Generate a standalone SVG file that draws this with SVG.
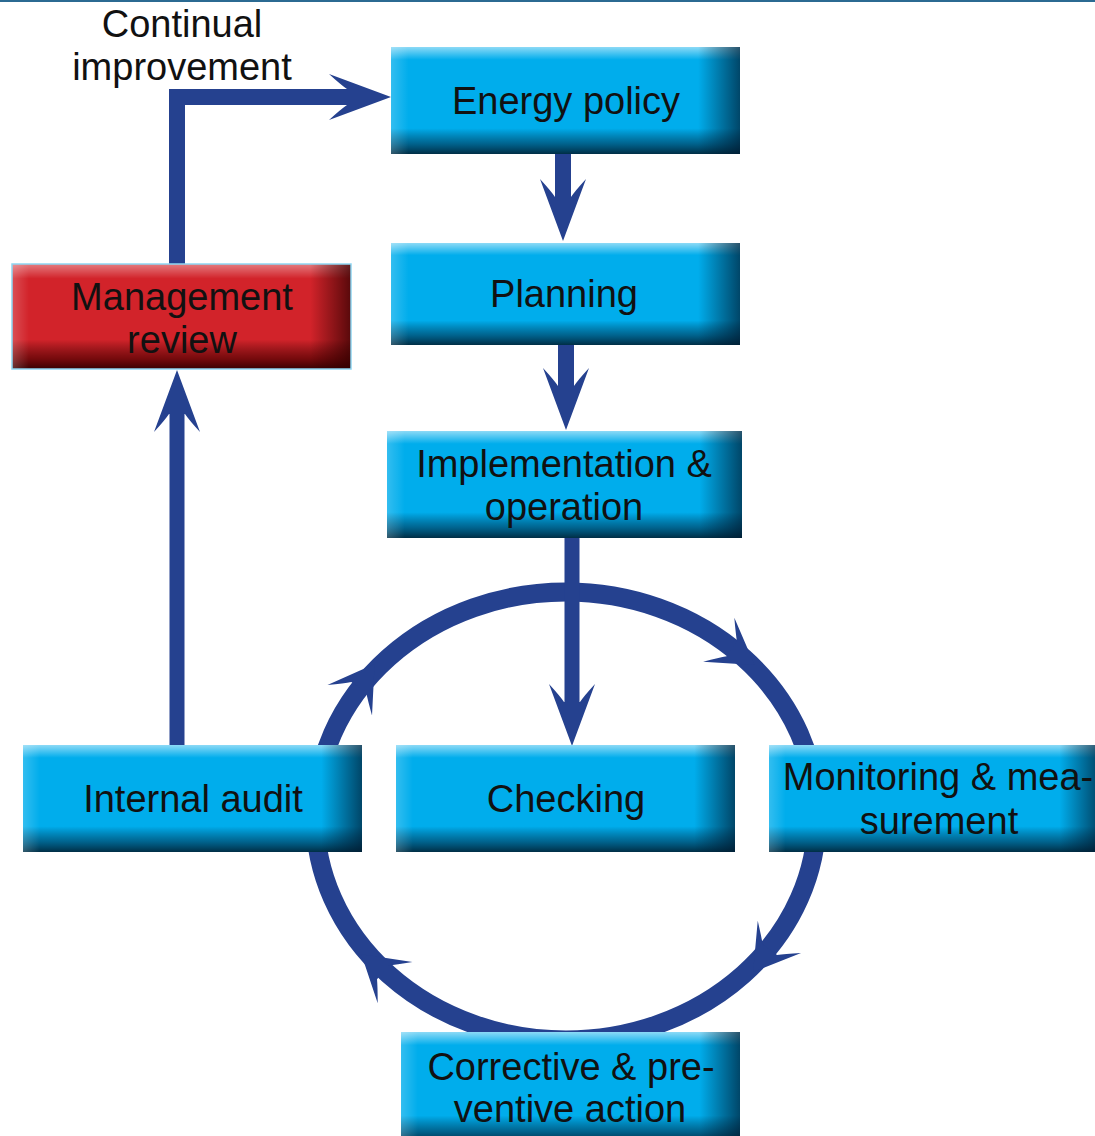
<svg xmlns="http://www.w3.org/2000/svg" width="1095" height="1136" viewBox="0 0 1095 1136">
<defs>
<style>
.lbl{font-family:"Liberation Sans",Arial,sans-serif;font-size:38px;fill:#111;text-anchor:middle}
.conn{fill:none;stroke:#25418f}
.head{fill:#25418f}
.blue{fill:#00adec}
.red{fill:#d2232a}
.bev-v{fill:url(#gv)}
.bev-h{fill:url(#gh)}
.rbev-v{fill:url(#rgv)}
.rbev-h{fill:url(#rgh)}
</style>
<linearGradient id="gv" x1="0" y1="0" x2="0" y2="1">
<stop offset="0" stop-color="#ffffff" stop-opacity="0.55"/>
<stop offset="0.12" stop-color="#ffffff" stop-opacity="0"/>
<stop offset="0.76" stop-color="#001a30" stop-opacity="0"/>
<stop offset="0.9" stop-color="#002a45" stop-opacity="0.55"/>
<stop offset="1" stop-color="#001828" stop-opacity="0.85"/>
</linearGradient>
<linearGradient id="gh" x1="0" y1="0" x2="1" y2="0">
<stop offset="0" stop-color="#ffffff" stop-opacity="0.2"/>
<stop offset="0.05" stop-color="#ffffff" stop-opacity="0"/>
<stop offset="0.88" stop-color="#001a30" stop-opacity="0"/>
<stop offset="1" stop-color="#001a30" stop-opacity="0.7"/>
</linearGradient>
<linearGradient id="rgv" x1="0" y1="0" x2="0" y2="1">
<stop offset="0" stop-color="#ffffff" stop-opacity="0.4"/>
<stop offset="0.14" stop-color="#ffffff" stop-opacity="0"/>
<stop offset="0.72" stop-color="#300000" stop-opacity="0"/>
<stop offset="0.9" stop-color="#500000" stop-opacity="0.7"/>
<stop offset="1" stop-color="#300000" stop-opacity="0.95"/>
</linearGradient>
<linearGradient id="rgh" x1="0" y1="0" x2="1" y2="0">
<stop offset="0" stop-color="#ffffff" stop-opacity="0.2"/>
<stop offset="0.05" stop-color="#ffffff" stop-opacity="0"/>
<stop offset="0.88" stop-color="#300000" stop-opacity="0"/>
<stop offset="1" stop-color="#300000" stop-opacity="0.75"/>
</linearGradient>
<path id="ah" d="M0,0 L-62,-23 Q-50,-12 -44,-8 L-44,8 Q-50,12 -62,23 Z"/>
<path id="ch" d="M40,0 L-4,-27 Q7,-14 12,-9 L12,9 Q7,14 -4,27 Z"/>
</defs>
<rect x="0" y="0" width="1095" height="1136" fill="#ffffff"/>
<rect x="0" y="0" width="1095" height="2" fill="#2b6a92"/>

<g id="connectors">
<ellipse class="conn" cx="566" cy="816" rx="251" ry="224" stroke-width="19"/>
<use href="#ch" class="head" transform="translate(352,697) rotate(-55.6)"/>
<use href="#ch" class="head" transform="translate(722,642) rotate(35.3)"/>
<use href="#ch" class="head" transform="translate(777,940) rotate(126.7)"/>
<use href="#ch" class="head" transform="translate(392,980) rotate(220)"/>
<polyline class="conn" points="177,266 177,97 350,97" stroke-width="16"/>
<use href="#ah" class="head" transform="translate(391,97)"/>
<line class="conn" x1="563" y1="154" x2="563" y2="200" stroke-width="16"/>
<use href="#ah" class="head" transform="translate(563,241) rotate(90)"/>
<line class="conn" x1="566" y1="345" x2="566" y2="390" stroke-width="16"/>
<use href="#ah" class="head" transform="translate(566,430) rotate(90)"/>
<line class="conn" x1="572" y1="538" x2="572" y2="705" stroke-width="15"/>
<use href="#ah" class="head" transform="translate(572,746) rotate(90)"/>
<line class="conn" x1="177" y1="745" x2="177" y2="410" stroke-width="15"/>
<use href="#ah" class="head" transform="translate(177,370) rotate(-90)"/>
</g>

<text class="lbl" x="182" y="37">Continual</text>
<text class="lbl" x="182" y="80">improvement</text>

<g id="energy-policy">
<rect class="blue" x="391" y="47" width="349" height="107"/>
<rect class="bev-v" x="391" y="47" width="349" height="107"/>
<rect class="bev-h" x="391" y="47" width="349" height="107"/>
<text class="lbl" x="566" y="114">Energy policy</text>
</g>
<g id="planning">
<rect class="blue" x="391" y="243" width="349" height="102"/>
<rect class="bev-v" x="391" y="243" width="349" height="102"/>
<rect class="bev-h" x="391" y="243" width="349" height="102"/>
<text class="lbl" x="564" y="307">Planning</text>
</g>
<g id="implementation">
<rect class="blue" x="387" y="431" width="355" height="107"/>
<rect class="bev-v" x="387" y="431" width="355" height="107"/>
<rect class="bev-h" x="387" y="431" width="355" height="107"/>
<text class="lbl" x="564" y="477">Implementation &amp;</text>
<text class="lbl" x="564" y="520">operation</text>
</g>
<g id="management-review">
<rect class="red" x="12" y="264" width="339" height="105"/>
<rect class="rbev-v" x="12" y="264" width="339" height="105"/>
<rect class="rbev-h" x="12" y="264" width="339" height="105"/>
<rect x="12" y="264" width="339" height="105" fill="none" stroke="#8fd6f2" stroke-width="1.5"/>
<text class="lbl" x="182" y="310">Management</text>
<text class="lbl" x="182" y="353">review</text>
</g>
<g id="internal-audit">
<rect class="blue" x="23" y="745" width="339" height="107"/>
<rect class="bev-v" x="23" y="745" width="339" height="107"/>
<rect class="bev-h" x="23" y="745" width="339" height="107"/>
<text class="lbl" x="193" y="812">Internal audit</text>
</g>
<g id="checking">
<rect class="blue" x="396" y="745" width="339" height="107"/>
<rect class="bev-v" x="396" y="745" width="339" height="107"/>
<rect class="bev-h" x="396" y="745" width="339" height="107"/>
<text class="lbl" x="566" y="812">Checking</text>
</g>
<g id="monitoring">
<rect class="blue" x="769" y="745" width="330" height="107"/>
<rect class="bev-v" x="769" y="745" width="330" height="107"/>
<rect class="bev-h" x="769" y="745" width="330" height="107"/>
<text class="lbl" x="938" y="790">Monitoring &amp; mea-</text>
<text class="lbl" x="939" y="834">surement</text>
</g>
<g id="corrective">
<rect class="blue" x="401" y="1032" width="339" height="104"/>
<rect class="bev-v" x="401" y="1032" width="339" height="110"/>
<rect class="bev-h" x="401" y="1032" width="339" height="104"/>
<text class="lbl" x="571" y="1080">Corrective &amp; pre-</text>
<text class="lbl" x="570" y="1122">ventive action</text>
</g>
</svg>
